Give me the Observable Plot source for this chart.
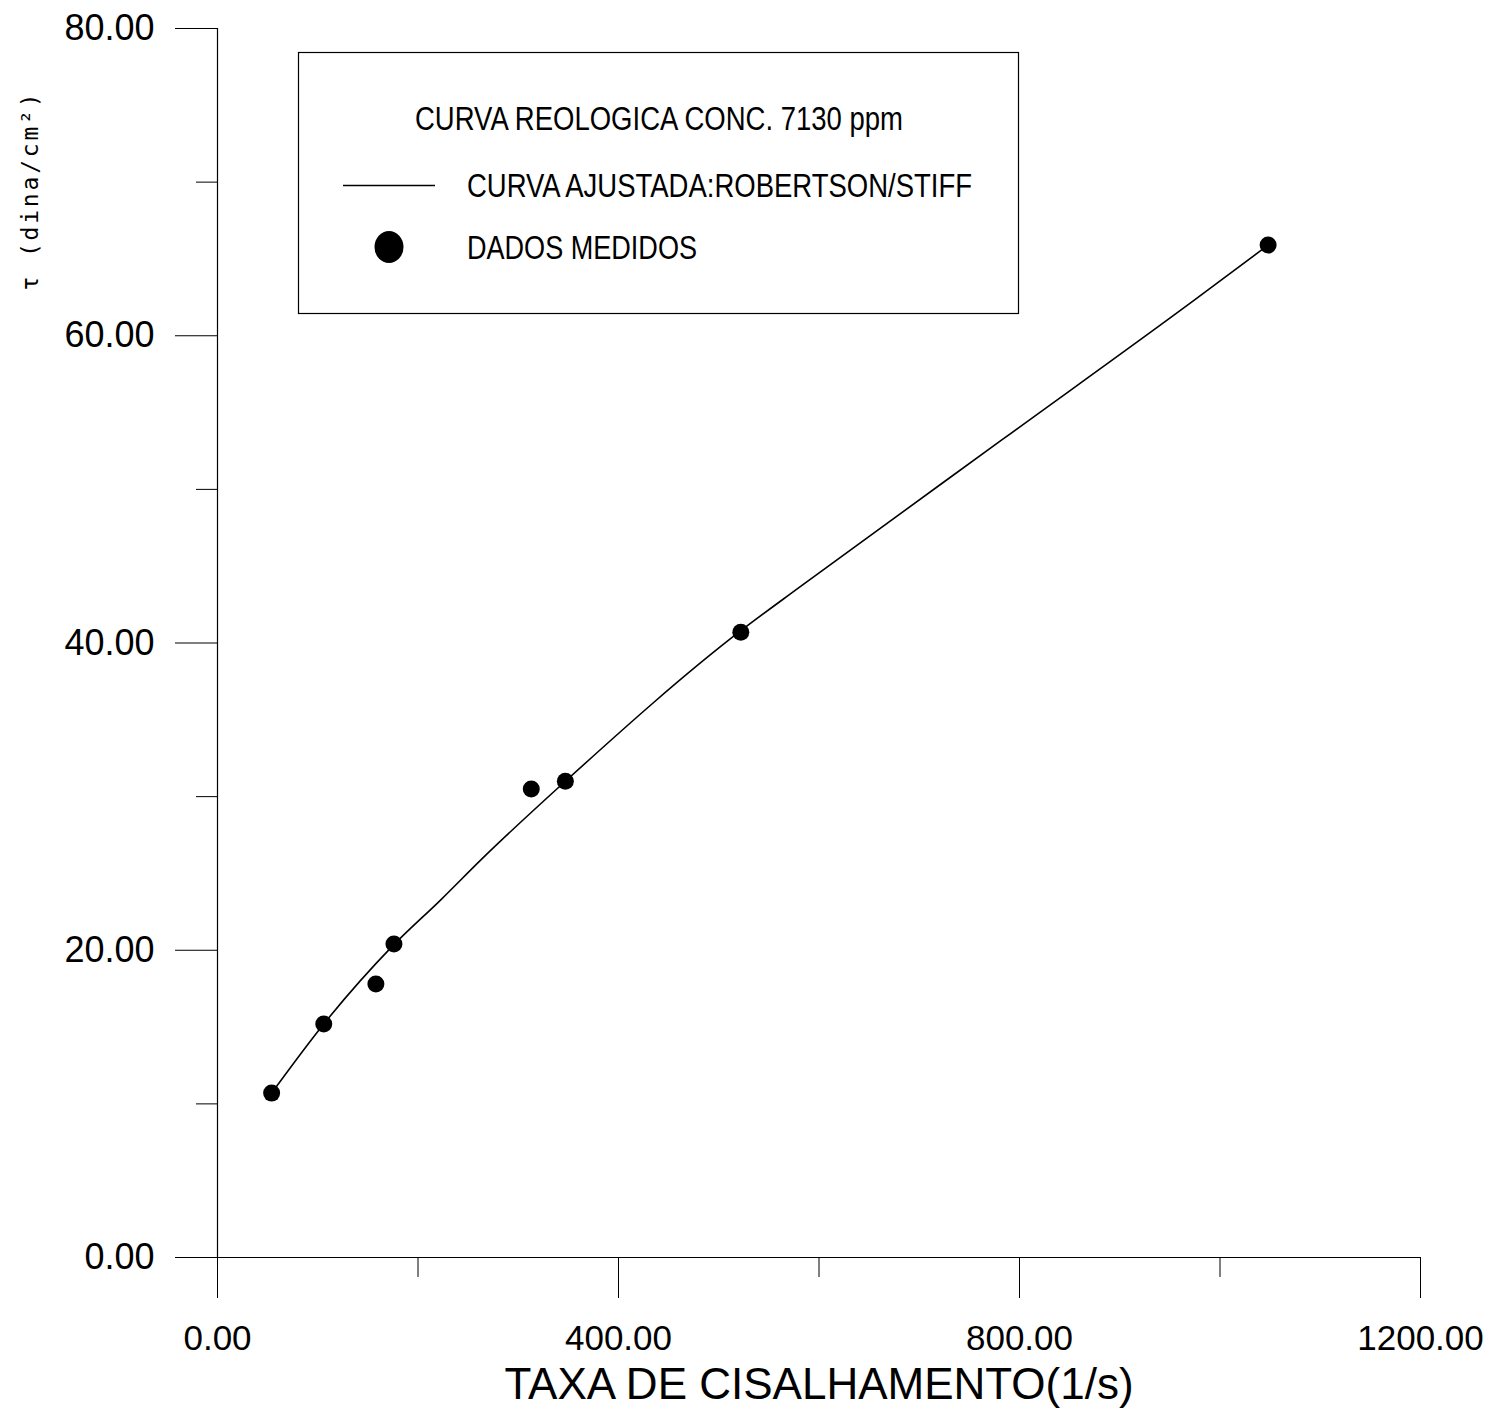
<!DOCTYPE html>
<html>
<head>
<meta charset="utf-8">
<script src="https://cdn.jsdelivr.net/npm/d3@7"></script>
<script src="https://cdn.jsdelivr.net/npm/@observablehq/plot@0.6"></script>
<style>
  html, body { margin: 0; padding: 0; background: #fff; }
  #wrap { position: relative; width: 1506px; height: 1409px; font-family: "Liberation Sans", Arial, sans-serif; }
  #legend { position: absolute; left: 0; top: 0; pointer-events: none; }
</style>
</head>
<body>
<div id="wrap"></div>
<script>
// ---- data ----
const measuredShear = [54, 106, 158, 176, 313, 347, 522, 1048];
const measuredTau   = [10.7, 15.2, 17.8, 20.4, 30.5, 31.0, 40.7, 65.9];

const curveShear = [54, 106, 175, 223, 263, 347, 522, 582, 782, 974, 1048];
const curveTau   = [10.7, 15.2, 20.3, 23.3, 25.9, 31.0, 40.8, 43.7, 53.2, 62.3, 65.9];

const xMajorTicks = [0, 400, 800, 1200];
const xMinorTicks = [200, 600, 1000];
const yMajorTicks = [0, 20, 40, 60, 80];
const yMinorTicks = [10, 30, 50, 70];

const xTitle = "TAXA DE CISALHAMENTO(1/s)";
const yTitle = "τ (dina/cm²)";
const legendTitle = "CURVA REOLOGICA CONC. 7130 ppm";
const legendLine = "CURVA AJUSTADA:ROBERTSON/STIFF";
const legendDots = "DADOS MEDIDOS";

// ---- tables ----
const measured = measuredShear.map((x, i) => ({x, y: measuredTau[i]}));
const curve = curveShear.map((x, i) => ({x, y: curveTau[i]}));

const fmt = d => d.toFixed(2);

const chart = Plot.plot({
  width: 1506,
  height: 1409,
  marginLeft: 217,
  marginRight: 86,
  marginTop: 28,
  marginBottom: 152,
  style: {fontFamily: '"Liberation Sans", Arial, sans-serif', color: "#000", background: "#fff"},
  x: {domain: [0, 1200]},
  y: {domain: [0, 80]},
  marks: [
    Plot.axisX(xMajorTicks, {tickSize: 41, tickPadding: 27, tickFormat: fmt, fontSize: 35, label: null}),
    Plot.axisX(xMinorTicks, {tickSize: 20, tickFormat: () => "", label: null}),
    Plot.axisY(yMajorTicks, {tickSize: 42, tickPadding: 21, tickFormat: fmt, fontSize: 36, label: null}),
    Plot.axisY(yMinorTicks, {tickSize: 21, tickFormat: () => "", label: null}),
    Plot.ruleX([0], {stroke: "#000", strokeWidth: 1.2}),
    Plot.ruleY([0], {stroke: "#000", strokeWidth: 1.2}),
    Plot.line(curve, {x: "x", y: "y", stroke: "#000", strokeWidth: 1.6, curve: "monotone-x"}),
    Plot.dot(measured, {x: "x", y: "y", r: 8.5, fill: "#000", stroke: "none"}),
    Plot.text([xTitle], {frameAnchor: "bottom", dy: 127, lineAnchor: "middle", textAnchor: "middle", fontSize: 44, fill: "#000"}),
    Plot.text([yTitle], {frameAnchor: "top-left", dx: -187, dy: 162, rotate: -90, lineAnchor: "middle", textAnchor: "middle",
      fontSize: 23, fontFamily: '"DejaVu Sans Mono", "Liberation Mono", monospace', fill: "#000"})
  ]
});

const wrap = document.getElementById("wrap");
wrap.appendChild(chart);

// widen the monospace y title like the original
chart.querySelectorAll("text").forEach(t => {
  if (t.textContent === yTitle) t.setAttribute("letter-spacing", "2.8");
});

// ---- legend box (overlay) ----
const ns = "http://www.w3.org/2000/svg";
const lg = document.createElementNS(ns, "svg");
lg.setAttribute("id", "legend");
lg.setAttribute("width", 1506);
lg.setAttribute("height", 1409);
function el(name, attrs, text) {
  const e = document.createElementNS(ns, name);
  for (const k in attrs) e.setAttribute(k, attrs[k]);
  if (text != null) e.textContent = text;
  lg.appendChild(e);
  return e;
}
const font = '"Liberation Sans", Arial, sans-serif';
el("rect", {x: 298.5, y: 52.5, width: 720, height: 261, fill: "#fff", stroke: "#000", "stroke-width": 1.2});
el("text", {x: 659, y: 130, "text-anchor": "middle", "font-size": 33, "font-family": font, textLength: 488, lengthAdjust: "spacingAndGlyphs"}, legendTitle);
el("line", {x1: 343, x2: 435, y1: 185.5, y2: 185.5, stroke: "#000", "stroke-width": 1.3});
el("text", {x: 467, y: 197, "font-size": 33, "font-family": font, textLength: 505, lengthAdjust: "spacingAndGlyphs"}, legendLine);
el("ellipse", {cx: 389, cy: 247, rx: 14.5, ry: 16, fill: "#000"});
el("text", {x: 467, y: 259, "font-size": 33, "font-family": font, textLength: 230, lengthAdjust: "spacingAndGlyphs"}, legendDots);
wrap.appendChild(lg);
</script>
</body>
</html>
